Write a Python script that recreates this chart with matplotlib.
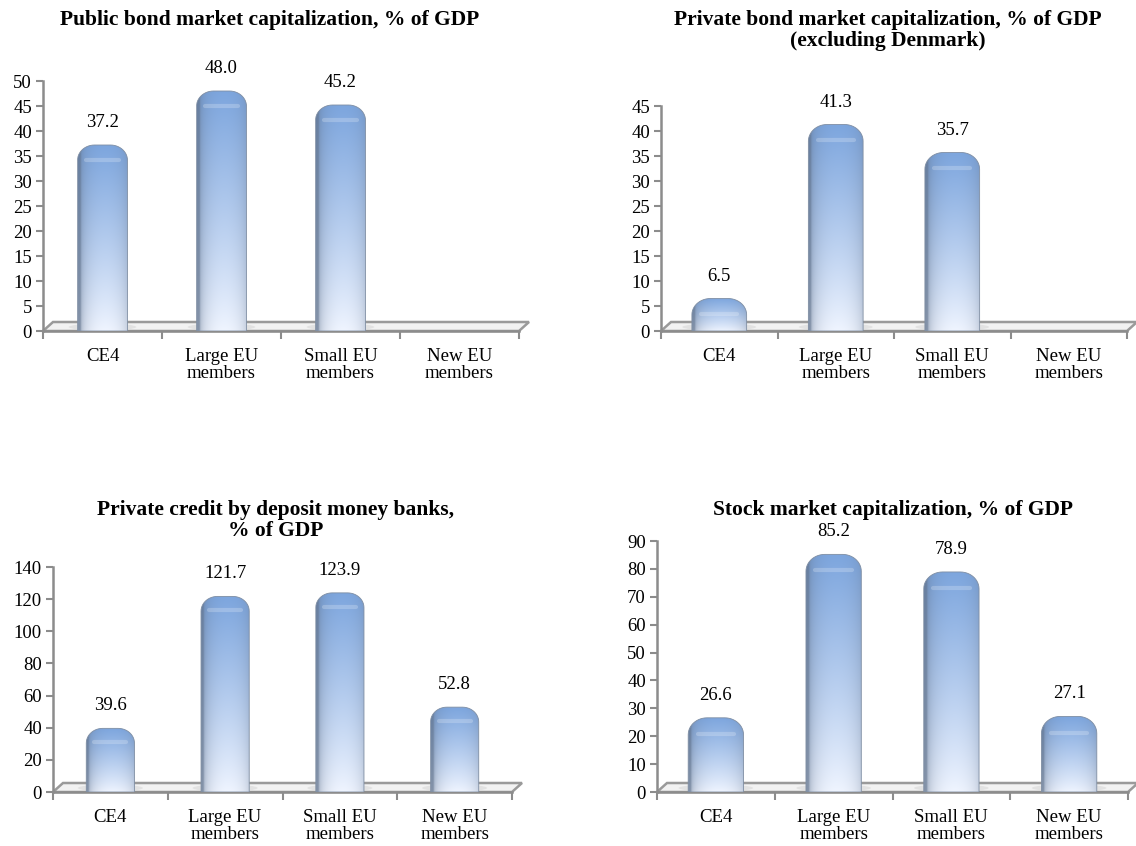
import numpy as np
import matplotlib
matplotlib.use("Agg")
from matplotlib import pyplot as plt
from matplotlib.path import Path
from matplotlib.patches import PathPatch, Polygon, Ellipse

plt.rcParams['font.family'] = ['Liberation Serif', 'DejaVu Serif']

# data
categories = ["CE4", "Large EU\nmembers", "Small EU\nmembers", "New EU\nmembers"]
public_bond = [37.2, 48.0, 45.2, None]
private_bond = [6.5, 41.3, 35.7, None]
private_credit = [39.6, 121.7, 123.9, 52.8]
stock_market = [26.6, 85.2, 78.9, 27.1]

titles = ["Public bond market capitalization, % of GDP",
          "Private bond market capitalization, % of GDP\n(excluding Denmark)",
          "Private credit by deposit money banks,\n% of GDP",
          "Stock market capitalization, % of GDP"]
y_max = [50, 45, 140, 90]
y_step = [5, 5, 20, 10]

W, H = 1136, 846
# axes rectangles in pixels: left, right, y of zero, y of top
boxes = [(43, 519, 331, 81),
         (661, 1127, 331, 106),
         (53, 512, 792, 567),
         (657, 1128, 792, 541)]
bar_w = [0.42, 0.47, 0.42, 0.47]
title_pos = [(270, 10), (888, 10), (276, 500), (893, 500)]


def bar_image():
    u = np.linspace(0, 1, 80)
    t = np.linspace(0, 1, 200)[:, None]
    top = np.array([0.49, 0.65, 0.87])
    bot = np.array([0.94, 0.96, 1.00])
    base = bot + (top - bot) * t[..., None] ** 0.9
    # cylinder shading across the width
    c = np.sqrt(np.clip(1 - (2 * u - 1.1) ** 2, 0, 1)) ** 0.6
    edge = np.array([0.38, 0.45, 0.55])
    img = edge + (base - edge) * (0.25 + 0.75 * c)[None, :, None]
    return np.clip(img, 0, 1)


IMG = bar_image()


def draw_bar(ax, x, h, w, ppx, ppy):
    rx = w * 0.34
    ry = rx * ppx / ppy * 0.9
    ry = min(ry, h * 0.5)
    x0, x1 = x - w / 2, x + w / 2
    a = np.linspace(np.pi, np.pi / 2, 14)
    b = np.linspace(np.pi / 2, 0, 14)
    verts = [(x0, 0), (x0, h - ry)]
    verts += [(x0 + rx + rx * np.cos(t), h - ry + ry * np.sin(t)) for t in a]
    verts += [(x1 - rx + rx * np.cos(t), h - ry + ry * np.sin(t)) for t in b]
    verts += [(x1, 0), (x0, 0)]
    path = Path(verts, closed=True)
    patch = PathPatch(path, facecolor='none', edgecolor='#7f8ea3', lw=0.6, zorder=4)
    ax.add_patch(patch)
    im = ax.imshow(IMG, extent=[x0, x1, 0, h], aspect='auto', origin='lower',
                   zorder=3, interpolation='bilinear')
    im.set_clip_path(patch)
    hl, = ax.plot([x0 + rx * 0.5, x1 - rx * 0.5], [h - ry * 0.95] * 2,
                  color='white', lw=3, alpha=0.22, zorder=3.5,
                  solid_capstyle='round')
    hl.set_clip_path(patch)
    # soft shadow on floor
    ax.add_patch(Ellipse((x, 4 / ppy), w * 1.35, 7 / ppy, facecolor='#dcdcdc',
                         edgecolor='none', zorder=2.5, alpha=0.7, clip_on=False))


fig = plt.figure(figsize=(W / 100, H / 100), dpi=100)

for k, (vals, title) in enumerate(zip([public_bond, private_bond, private_credit, stock_market], titles)):
    xl, xr, y0, yt = boxes[k]
    ax = fig.add_axes([xl / W, 1 - y0 / H, (xr - xl) / W, (y0 - yt) / H])
    ax.set_xlim(-0.5, 3.5)
    ax.set_ylim(0, y_max[k])
    ppx = (xr - xl) / 4
    ppy = (y0 - yt) / y_max[k]

    # floor
    dx = 10 / ppx
    dy = 9 / ppy
    floor = Polygon([(-0.5, 0), (3.5, 0), (3.5 + dx, dy), (-0.5 + dx, dy)],
                    closed=True, facecolor='#f2f2f2', edgecolor='#9a9a9a',
                    lw=1.8, zorder=2, clip_on=False)
    ax.add_patch(floor)

    w = bar_w[k]
    for i, v in enumerate(vals):
        if v is None:
            continue
        draw_bar(ax, i, v, w, ppx, ppy)
        ax.text(i, v + 14 / ppy, f"{v:.1f}", ha='center', va='bottom',
                fontsize=13.5, zorder=5)

    ax.set_xticks(range(4))
    ax.set_xticklabels(categories, fontsize=13.5, linespacing=1.0)
    ax.set_xticks([-0.5, 0.5, 1.5, 2.5, 3.5], minor=True)
    ax.tick_params(axis='x', which='major', length=0, pad=12)
    ax.tick_params(axis='x', which='minor', length=6, width=1.5, color='#8c8c8c')
    ax.set_yticks(np.arange(0, y_max[k] + 1, y_step[k]))
    ax.tick_params(axis='y', length=5, width=1.5, color='#8c8c8c', labelsize=13.5, pad=3)
    for s in ['top', 'right']:
        ax.spines[s].set_visible(False)
    for s in ['left', 'bottom']:
        ax.spines[s].set_color('#8c8c8c')
        ax.spines[s].set_linewidth(1.8)
    ax.set_facecolor('none')

    tx, ty = title_pos[k]
    fig.text(tx / W, 1 - ty / H, title, ha='center', va='top',
             fontsize=15.5, fontweight='bold', linespacing=1.05)

fig.savefig("out.png", dpi=100)
